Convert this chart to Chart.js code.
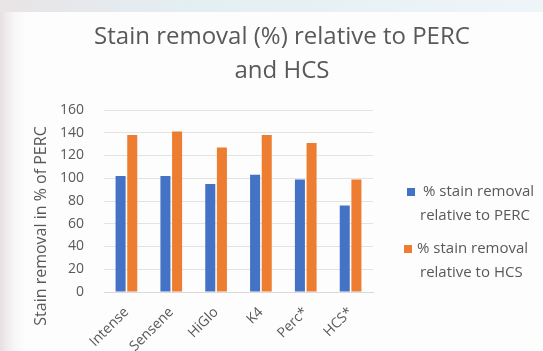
<!DOCTYPE html>
<html>
<head>
<meta charset="utf-8">
<script src="https://cdn.jsdelivr.net/npm/chart.js@4/dist/chart.umd.min.js"></script>
<style>
    html, body { margin: 0; padding: 0; background: #fff; }
    #wrap { width: 543px; height: 351px; position: relative; }
</style>
</head>
<body>
<div id="wrap"><canvas id="chart-canvas" width="543" height="351"></canvas></div>
<script>
const categories = ['Intense', 'Sensene', 'HiGlo', 'K4', 'Perc*', 'HCS*'];
const relPerc = [102, 102, 95, 103, 99, 76];
const relHcs = [138, 141, 127, 138, 131, 99];
const seriesNames = ['% stain removal relative to PERC', '% stain removal relative to HCS'];
const yTicks = [0, 20, 40, 60, 80, 100, 120, 140, 160];
const titleLines = ['Stain removal (%) relative to PERC', 'and HCS'];
const yTitle = 'Stain removal in % of PERC';

const textGrey = '#595959';
const font = '"Open Sans", "DejaVu Sans", sans-serif';

// backdrop: the slide sits on a faded photo, only hinted at here
const backdrop = {
    id: 'backdrop',
    beforeDraw(chart) {
        const c = chart.ctx;
        c.save();
        c.fillStyle = '#fdfdfd';
        c.fillRect(0, 0, chart.width, chart.height);
        const g = c.createLinearGradient(0, 0, chart.width, 0);
        g.addColorStop(0, '#e9e4e6');
        g.addColorStop(0.35, '#e3eef3');
        g.addColorStop(1, '#eef5f8');
        c.fillStyle = g;
        c.fillRect(0, 0, chart.width, 12);
        const s = c.createLinearGradient(0, 0, 30, 0);
        s.addColorStop(0, 'rgba(225,215,218,0.8)');
        s.addColorStop(1, 'rgba(255,255,255,0)');
        c.fillStyle = s;
        c.fillRect(0, 12, 30, chart.height - 12);
        c.restore();
    }
};

// title, y axis title and the wrapped legend are placed by hand
const labelsPlugin = {
    id: 'labelsPlugin',
    afterDraw(chart) {
        const c = chart.ctx;
        c.save();
        c.fillStyle = textGrey;
        c.textAlign = 'center';
        c.textBaseline = 'middle';
        c.font = '24px ' + font;
        titleLines.forEach((t, i) => c.fillText(t, 282, 37 + i * 34));

        c.save();
        c.translate(41, 226);
        c.rotate(-Math.PI / 2);
        c.font = '16px ' + font;
        c.fillText(yTitle, 0, 0);
        c.restore();

        c.textAlign = 'left';
        c.font = '15px ' + font;
        chart.data.datasets.forEach((ds, i) => {
            const y = 192 + i * 57;
            c.fillStyle = ds.backgroundColor;
            c.fillRect(407 - i * 3, y - 4, 8, 8);
            c.fillStyle = textGrey;
            const cut = ds.label.indexOf('relative');
            c.fillText(ds.label.slice(0, cut).trim(), 423 - i * 6, y);
            c.fillText(ds.label.slice(cut), 420, y + 24);
        });
        c.restore();
    }
};

new Chart(document.getElementById('chart-canvas'), {
    type: 'bar',
    data: {
        labels: categories,
        datasets: [
            { label: seriesNames[0], data: relPerc, backgroundColor: '#4472c4', categoryPercentage: 0.52, barPercentage: 0.86 },
            { label: seriesNames[1], data: relHcs, backgroundColor: '#ed7d31', categoryPercentage: 0.52, barPercentage: 0.86 }
        ]
    },
    options: {
        responsive: false,
        animation: false,
        layout: { padding: { left: 0, right: 170, top: 110, bottom: 0 } },
        plugins: {
            legend: { display: false },
            tooltip: { enabled: false },
            title: { display: false }
        },
        scales: {
            x: {
                afterFit(axis) { axis.height = 59; },
                grid: { display: false },
                border: { color: '#d9d9d9' },
                ticks: {
                    color: textGrey,
                    font: { family: font, size: 14 },
                    minRotation: 45,
                    maxRotation: 45,
                    padding: 4
                }
            },
            y: {
                min: 0,
                max: 160,
                afterFit(axis) { axis.width = 104; },
                afterBuildTicks(axis) { axis.ticks = yTicks.map(v => ({ value: v })); },
                grid: { color: '#e3e3e3', drawTicks: false },
                border: { display: false },
                ticks: { color: textGrey, font: { family: font, size: 14 }, padding: 20 }
            }
        }
    },
    plugins: [backdrop, labelsPlugin]
});
</script>
</body>
</html>
